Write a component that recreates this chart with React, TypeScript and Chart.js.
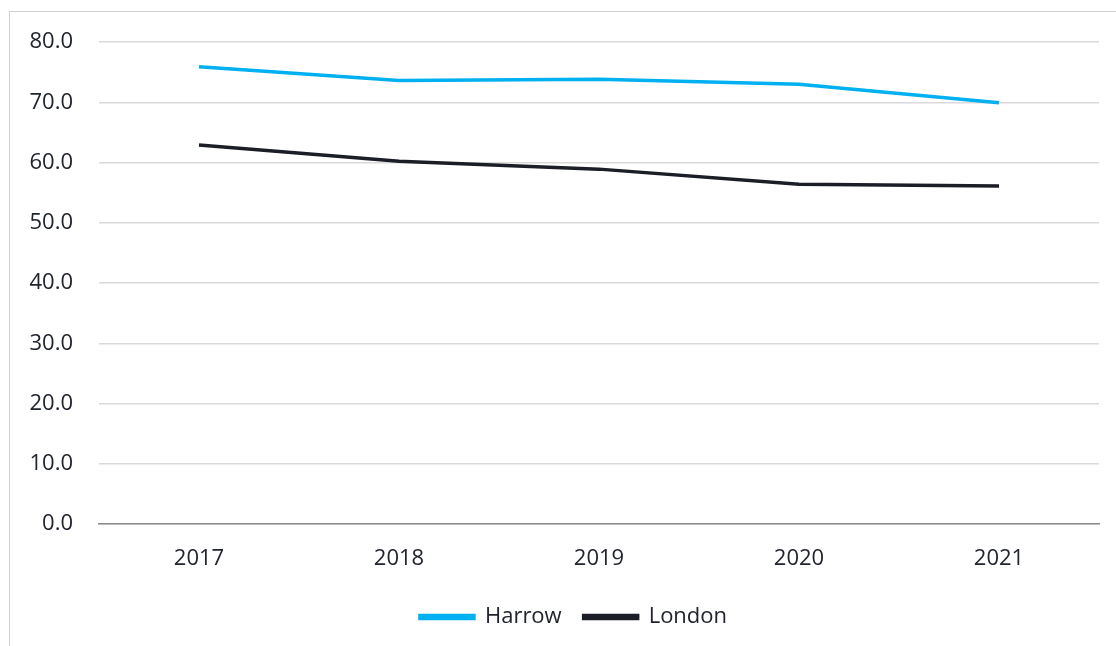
import React, { useEffect, useRef } from "react";
import { Chart, registerables } from "chart.js";

Chart.register(...registerables);

const years = ["2017", "2018", "2019", "2020", "2021"];
const harrow = [75.9, 73.6, 73.8, 73.0, 69.9];
const london = [62.9, 60.2, 58.9, 56.4, 56.1];
const seriesNames = ["Harrow", "London"];
const seriesColors = ["#00B0F0", "#1B1E26"];

const FONT = "'Open Sans', 'Noto Sans', sans-serif";
const TEXT = "#20242d";

const legendShift = {
  id: "legendShift",
  afterLayout(chart: any) {
    const lg = chart.legend;
    if (lg) {
      lg.left += 19;
      lg.right += 19;
    }
  },
};

export default function App() {
  const ref = useRef<HTMLCanvasElement | null>(null);
  useEffect(() => {
    if (!ref.current) return;
    const chart = new Chart(ref.current, {
      type: "line",
      data: {
        labels: years,
        datasets: [
          {
            label: seriesNames[0],
            data: harrow,
            borderColor: seriesColors[0],
            backgroundColor: seriesColors[0],
            borderWidth: 3.5,
            pointRadius: 0,
            tension: 0,
          },
          {
            label: seriesNames[1],
            data: london,
            borderColor: seriesColors[1],
            backgroundColor: seriesColors[1],
            borderWidth: 3.5,
            pointRadius: 0,
            tension: 0,
          },
        ],
      },
      plugins: [legendShift],
      options: {
        animation: false,
        responsive: false,
        maintainAspectRatio: false,
        layout: { padding: { left: 0, right: 17, top: 30, bottom: 8 } },
        plugins: {
          tooltip: { enabled: false },
          legend: {
            position: "bottom",
            labels: {
              font: { family: FONT, size: 22 },
              color: TEXT,
              boxWidth: 54,
              boxHeight: 3,
              padding: 22,
            },
          },
        },
        scales: {
          x: {
            offset: true,
            grid: { display: false, drawTicks: false },
            border: { display: true, color: "#8c8c8c", width: 1.5 },
            ticks: { font: { family: FONT, size: 22 }, color: TEXT, padding: 22 },
            afterFit: (s: any) => {
              s.height = 60;
            },
          },
          y: {
            min: 0,
            max: 80,
            grid: { color: "#d9d9d9", lineWidth: 1.5, drawTicks: false },
            border: { display: false },
            ticks: {
              stepSize: 10,
              font: { family: FONT, size: 22 },
              color: TEXT,
              padding: 26,
              callback: (v: any) => Number(v).toFixed(1),
            },
            afterFit: (s: any) => {
              s.width = 89;
              s.paddingTop = 0;
              s.paddingBottom = 0;
            },
          },
        },
      },
    });
    return () => chart.destroy();
  }, []);
  return (
    <div
      style={{
        position: "fixed",
        left: 9,
        top: 11,
        width: 1107,
        height: 635,
        borderTop: "1px solid #d0d0d0",
        borderLeft: "1px solid #d0d0d0",
        background: "#fff",
      }}
    >
      <canvas ref={ref} width={1106} height={634} style={{ display: "block" }} />
    </div>
  );
}
